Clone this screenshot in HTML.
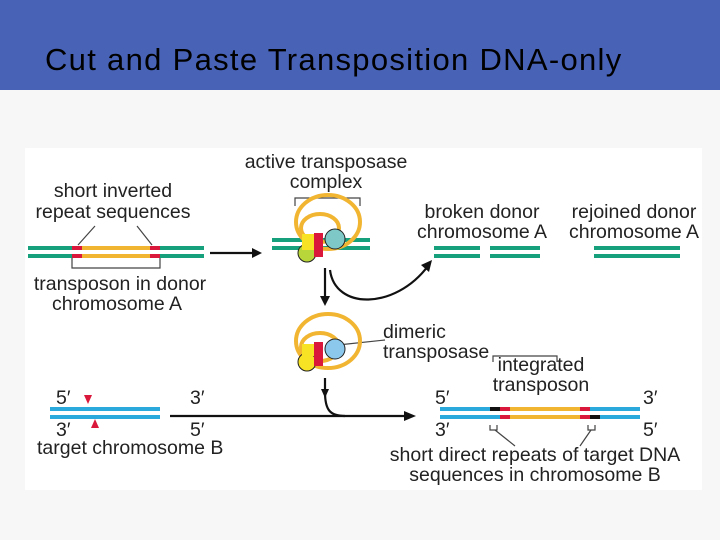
<!DOCTYPE html>
<html><head><style>
body{margin:0;width:720px;height:540px;overflow:hidden;background:#f7f7f7;font-family:"Liberation Sans",sans-serif;position:relative}
.ban{position:absolute;left:0;top:0;width:720px;height:90px;background:#4862b6}
.ttl{position:absolute;left:45px;top:42px;font-size:31px;letter-spacing:1.3px;color:#000;white-space:nowrap}
svg{position:absolute;left:0;top:0}
text{font-family:"Liberation Sans",sans-serif;font-size:19.5px;fill:#222}
</style></head><body>
<div class="ban"></div>
<div class="ttl">Cut and Paste Transposition DNA-only</div>
<svg width="720" height="540">
<rect x="25" y="148" width="677" height="342" fill="#fff"/>
<text x="113" y="197" text-anchor="middle">short inverted</text>
<text x="113" y="218" text-anchor="middle">repeat sequences</text>
<text x="120" y="290" text-anchor="middle">transposon in donor</text>
<text x="117" y="310" text-anchor="middle">chromosome A</text>
<text x="326" y="168" text-anchor="middle">active transposase</text>
<text x="326" y="188" text-anchor="middle">complex</text>
<text x="482" y="218" text-anchor="middle">broken donor</text>
<text x="482" y="238" text-anchor="middle">chromosome A</text>
<text x="634" y="218" text-anchor="middle">rejoined donor</text>
<text x="634" y="238" text-anchor="middle">chromosome A</text>
<text x="383" y="338">dimeric</text>
<text x="383" y="358">transposase</text>
<text x="541" y="371" text-anchor="middle">integrated</text>
<text x="541" y="391" text-anchor="middle">transposon</text>
<text x="535" y="461" text-anchor="middle">short direct repeats of target DNA</text>
<text x="535" y="481" text-anchor="middle">sequences in chromosome B</text>
<text x="37" y="454">target chromosome B</text>
<text x="56" y="404">5′</text><text x="190" y="404">3′</text>
<text x="56" y="436">3′</text><text x="190" y="436">5′</text>
<text x="435" y="404">5′</text><text x="643" y="404">3′</text>
<text x="435" y="436">3′</text><text x="643" y="436">5′</text>
<g stroke="#444" stroke-width="1.2" fill="none">
<path d="M95 226L78 245M137 226L152 245"/>
<path d="M72 258V268H160V258"/>
<path d="M295 206V198H360V206"/>
<path d="M493 362V356H557V362"/>
<path d="M338 345L385 340"/>
<path d="M490 425V430H497V425M588 425V430H595V425"/>
<path d="M495 430L515 446M591 430L580 446"/>
</g>
<g stroke-width="4">
<path d="M28 248H204M28 256H204" stroke="#17a07c"/>
<path d="M82 248H150M82 256H150" stroke="#f1b532"/>
<path d="M72 248H82M72 256H82M150 248H160M150 256H160" stroke="#d9183b"/>
<path d="M272 240H370M272 248H370" stroke="#17a07c"/>
<path d="M434 248H480M434 256H480M490 248H540M490 256H540M594 248H680M594 256H680" stroke="#17a07c"/>
<path d="M50 409H160M50 417H160" stroke="#2aaadc"/>
<path d="M440 409H640M440 417H640" stroke="#2aaadc"/>
<path d="M500 409H590M500 417H590" stroke="#f1b532"/>
<path d="M500 409H510M500 417H510M580 409H590M580 417H590" stroke="#d9183b"/>
<path d="M490 409H500M590 417H600" stroke="#111"/>
</g>
<path d="M84 395L92 395L88 404Z" fill="#d9183b"/>
<path d="M95 419L99 428L91 428Z" fill="#d9183b"/>
<g>
<ellipse cx="328" cy="222" rx="32" ry="27" fill="none" stroke="#f1b532" stroke-width="4"/>
<ellipse cx="320" cy="228" rx="19" ry="14" fill="none" stroke="#f1b532" stroke-width="4"/>
<circle cx="307" cy="253" r="9" fill="#b8d63a" stroke="#222" stroke-width="1"/>
<rect x="302" y="234" width="12" height="16" fill="#f7e224"/>
<circle cx="335" cy="239" r="10" fill="#7ec8c8" stroke="#222" stroke-width="1"/>
<rect x="314" y="233" width="9" height="24" fill="#d9183b"/>
<ellipse cx="328" cy="341" rx="32" ry="27" fill="none" stroke="#f1b532" stroke-width="4"/>
<ellipse cx="320" cy="347" rx="19" ry="14" fill="none" stroke="#f1b532" stroke-width="4"/>
<circle cx="307" cy="362" r="9" fill="#f7e224" stroke="#222" stroke-width="1"/>
<rect x="302" y="344" width="12" height="12" fill="#f7e224"/>
<circle cx="335" cy="349" r="10" fill="#8cc8ec" stroke="#222" stroke-width="1"/>
<rect x="314" y="342" width="9" height="24" fill="#d9183b"/>
</g>
<g stroke="#111" stroke-width="2.2" fill="none">
<path d="M210 253H254"/>
<path d="M325 268V298"/>
<path d="M330 270C335 310 395 310 428 266"/>
<path d="M170 416H406"/>
<path d="M325 378V392C325 410 330 416 345 416"/>
</g>
<g fill="#111">
<path d="M262 253L252 248V258Z"/>
<path d="M325 306L320 296H330Z"/>
<path d="M432 260L421 265L429 272Z"/>
<path d="M416 416L404 411V421Z"/>
<path d="M325 398L321 389H329Z"/>
</g>
</svg>
</body></html>
